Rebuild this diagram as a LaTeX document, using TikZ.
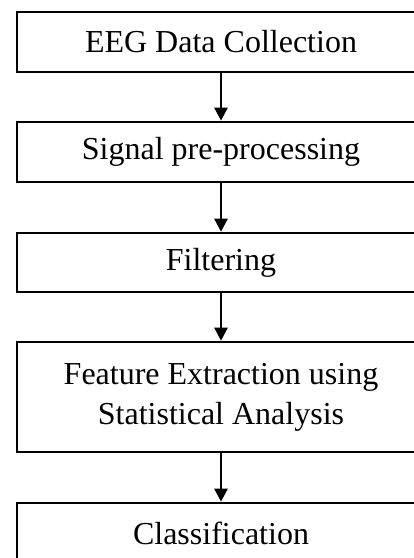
\documentclass[tikz,border=0pt]{standalone}
\usepackage{fontspec}
\setmainfont{Liberation Serif}
\usetikzlibrary{positioning,arrows.meta}

\begin{document}
\begin{tikzpicture}[x=1pt,y=1pt,
box/.style={draw=black, line width=2.6pt, fill=white, align=center,
minimum width=408pt, minimum height=60pt, font=\fontsize{32}{40}\selectfont},
line/.style={draw=black, line width=2.4pt, -{Triangle[width=13pt,length=13pt]}}]
\clip (0,0) rectangle (414,-558);
\useasboundingbox (0,0) rectangle (414,-558);
\node[box] (s1) at (221,-42) {EEG Data Collection};
\node[box] (s2) at (221,-152) {Signal pre-processing};
\node[box, minimum height=59pt] (s3) at (221,-262.5) {Filtering};
\node[box, minimum height=110pt] (s4) at (221,-397) {Feature Extraction using\\Statistical Analysis};
\node[box] (s5) at (221,-533) {Classification};
\draw[line] (s1)--(s2); \draw[line] (s2)--(s3); \draw[line] (s3)--(s4);
\draw[line] (s4)--(s5);
\end{tikzpicture}
\end{document}
